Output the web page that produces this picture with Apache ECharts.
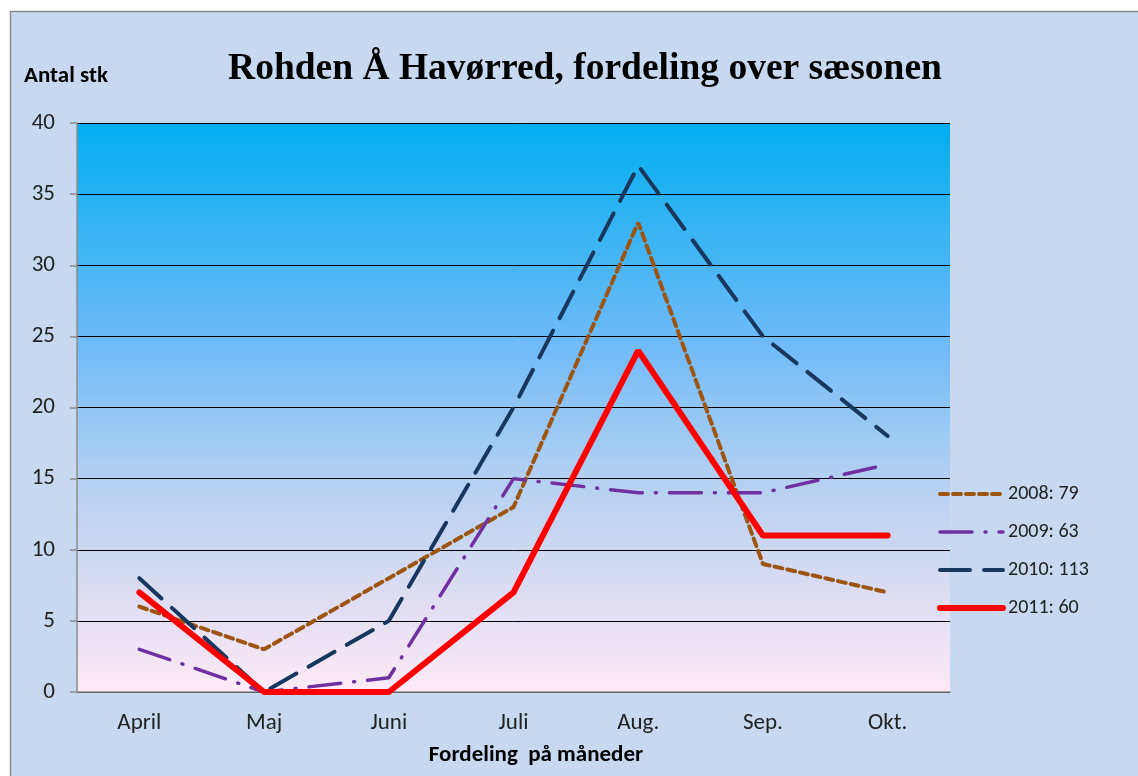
<!DOCTYPE html>
<html>
<head>
<meta charset="utf-8">
<script src="https://cdn.jsdelivr.net/npm/echarts@6/dist/echarts.min.js"></script>
<style>
html, body { margin: 0; padding: 0; background: #ffffff; }
#chart { width: 1138px; height: 776px; }
</style>
</head>
<body>
<div id="chart"></div>
<script>
// måneder og fangst pr. år
var months = ['April', 'Maj', 'Juni', 'Juli', 'Aug.', 'Sep.', 'Okt.'];
var y2008 = [6, 3, 8, 13, 33, 9, 7];
var y2009 = [3, 0, 1, 15, 14, 14, 16];
var y2010 = [8, 0, 5, 20, 37, 25, 18];
var y2011 = [7, 0, 0, 7, 24, 11, 11];
var names = ['2008: 79', '2009: 63', '2010: 113', '2011: 60'];

var font = 'Carlito, Lato, "Open Sans", sans-serif';

var chart = echarts.init(document.getElementById('chart'));

function lineSeries(name, data, color, width, dash) {
    return {
        name: name,
        type: 'line',
        data: data,
        symbol: 'none',
        lineStyle: { color: color, width: width, type: dash, cap: 'round' },
        itemStyle: { color: color }
    };
}

chart.setOption({
    animation: false,
    title: {
        text: 'Rohden Å Havørred, fordeling over sæsonen',
        left: 580,
        top: 45,
        textAlign: 'center',
        textStyle: { fontFamily: '"Liberation Serif", "Times New Roman", serif', fontWeight: 'bold', fontSize: 37.5, color: '#000' }
    },
    graphic: [
        {
            type: 'rect', z: -10, silent: true,
            shape: { x: 10.5, y: 11.5, width: 1140, height: 780 },
            style: { fill: '#c6d9f0', stroke: '#8c8c8c', lineWidth: 1.5 }
        },
        {
            type: 'text', left: 24, top: 65,
            style: { text: 'Antal stk', font: 'bold 23px ' + font, fill: '#000' }
        },
        {
            type: 'text', x: 536, y: 755,
            style: { text: 'Fordeling  på måneder', font: 'bold 23px ' + font, fill: '#000', align: 'center', verticalAlign: 'middle' }
        }
    ],
    legend: {
        orient: 'vertical',
        left: 937,
        top: 484,
        padding: 0,
        itemWidth: 63,
        itemHeight: 14,
        itemGap: 18,
        data: names,
        itemStyle: { opacity: 0 },
        lineStyle: { width: 'inherit' },
        textStyle: { fontFamily: font, fontSize: 20, color: '#222' }
    },
    grid: {
        left: 77, top: 123, right: 188, bottom: 84,
        outerBoundsMode: 'none',
        show: true,
        borderWidth: 0,
        backgroundColor: {
            type: 'linear', x: 0, y: 0, x2: 0, y2: 1,
            colorStops: [
                { offset: 0, color: '#02aeef' },
                { offset: 0.38, color: '#6dbaf8' },
                { offset: 0.62, color: '#b2d0f1' },
                { offset: 0.85, color: '#e1def3' },
                { offset: 1, color: '#fdeaf6' }
            ]
        }
    },
    xAxis: {
        type: 'category',
        data: months,
        boundaryGap: true,
        axisLine: { lineStyle: { color: '#8c8c8c', width: 1.5 } },
        axisTick: { show: false },
        axisLabel: { fontFamily: font, fontSize: 23, color: '#222', margin: 20 }
    },
    yAxis: {
        type: 'value',
        min: 0, max: 40, interval: 5,
        axisLine: { show: true, lineStyle: { color: '#8c8c8c', width: 1.5 } },
        axisTick: { show: true, length: 7, lineStyle: { color: '#8c8c8c', width: 1.5 } },
        axisLabel: { fontFamily: font, fontSize: 23, color: '#222', margin: 22 },
        splitLine: { lineStyle: { color: '#000', width: 1 } }
    },
    series: [
        lineSeries(names[0], y2008, '#9c5512', 4, [8, 5]),
        lineSeries(names[1], y2009, '#7030a0', 3.5, [32, 13, 1, 13]),
        lineSeries(names[2], y2010, '#17375e', 4, [30, 14]),
        lineSeries(names[3], y2011, '#ff0000', 6, 'solid')
    ]
});
</script>
</body>
</html>
